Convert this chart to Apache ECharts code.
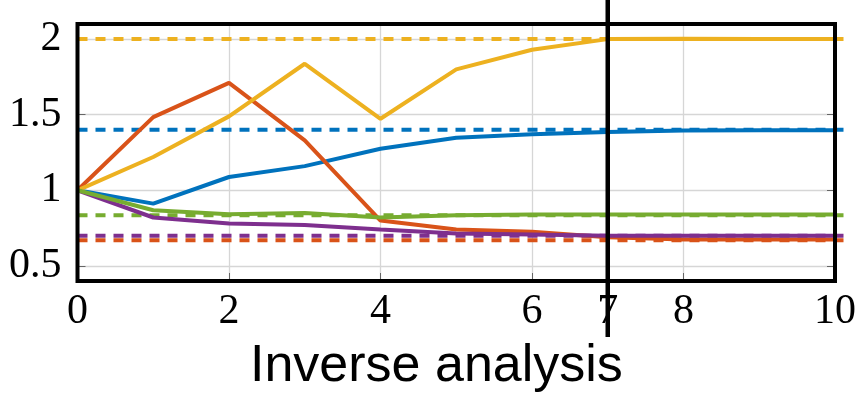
<!DOCTYPE html>
<html>
<head>
<meta charset="utf-8">
<script src="https://cdn.jsdelivr.net/npm/echarts@6/dist/echarts.min.js"></script>
<style>
  html, body { margin: 0; padding: 0; background: #fff; }
  #chart { width: 859px; height: 395px; }
</style>
</head>
<body>
<div id="chart"></div>
<script>
// iterations of the inverse analysis
const iterations = [0, 1, 2, 3, 4, 5, 6, 7, 8, 9, 10];

// identified parameters (normalised)
const blueVals = [1, 0.912, 1.088, 1.16, 1.275, 1.348, 1.37, 1.385, 1.395, 1.397, 1.397];
const orangeVals = [1, 1.484, 1.711, 1.33, 0.8, 0.74, 0.725, 0.69, 0.675, 0.675, 0.675];
const yellowVals = [1, 1.22, 1.489, 1.837, 1.473, 1.8, 1.93, 2.0, 2.003, 2.0, 2.0];
const purpleVals = [1, 0.82, 0.78, 0.77, 0.74, 0.714, 0.708, 0.7, 0.7, 0.7, 0.7];
const greenVals = [1, 0.868, 0.842, 0.85, 0.82, 0.835, 0.84, 0.84, 0.84, 0.84, 0.84];

// true values (dotted lines)
const refBlue = 1.4;
const refOrange = 0.67;
const refYellow = 2.0;
const refPurple = 0.7;
const refGreen = 0.835;
const refSpan = [0, 10.2];

// vertical marker at iteration 7
const markerX = 7;
const markerSpan = [0.03, 2.3];

const xLabels = [0, 2, 4, 6, 7, 8, 10];
const yLabels = [0.5, 1, 1.5, 2];

const colors = {
  blue: "#0072BD",
  orange: "#D95319",
  yellow: "#EDB120",
  purple: "#7E2F8E",
  green: "#77AC30",
};

const chart = echarts.init(document.getElementById("chart"));

const solid = (name, vals) => ({
  name: name,
  type: "line",
  z: 3,
  symbol: "none",
  data: iterations.map((x, i) => [x, vals[i]]),
  lineStyle: { color: colors[name], width: 4 },
});

// the reference lines run a bit past the right edge of the box,
// so draw them with a custom series (line series gets cut at x max)
const dashed = (name, v) => ({
  name: name + "Ref",
  type: "custom",
  z: 2,
  clip: false,
  data: [[v]],
  encode: { y: 0 },
  renderItem: (params, api) => {
    const y = api.value(0);
    const p0 = api.coord([refSpan[0], y]);
    const p1 = api.coord([refSpan[1], y]);
    return {
      type: "line",
      shape: { x1: p0[0], y1: p0[1], x2: p1[0], y2: p1[1] },
      style: {
        stroke: colors[name],
        lineWidth: 4,
        lineDash: [10, 8],
        lineCap: "butt",
      },
    };
  },
});

const serifFont = "Liberation Serif";

const option = {
  animation: false,
  backgroundColor: "#fff",
  title: {
    text: "Inverse analysis",
    left: 250,
    top: 341,
    padding: 0,
    textStyle: {
      fontFamily: "Liberation Sans",
      fontSize: 52,
      fontWeight: "normal",
      color: "#000",
    },
  },
  grid: {
    left: 77.5,
    right: 20.5,
    top: 24,
    bottom: 114,
    show: true,
    z: 5,
    borderColor: "#000",
    borderWidth: 4,
    backgroundColor: "transparent",
  },
  xAxis: {
    type: "value",
    min: 0,
    max: 10,
    interval: 2,
    axisLine: { show: false },
    axisTick: { inside: true, length: 8, lineStyle: { color: "#666" } },
    splitLine: { show: true, lineStyle: { color: "#d6d6d6", width: 1.3 } },
    axisLabel: {
      customValues: xLabels,
      margin: 10,
      fontFamily: serifFont,
      fontSize: 42,
      color: "#000",
    },
  },
  yAxis: [
    {
      type: "value",
      min: 0.4,
      max: 2.1,
      axisLine: { show: false },
      axisTick: {
        inside: true,
        length: 8,
        customValues: yLabels,
        lineStyle: { color: "#666" },
      },
      splitLine: { show: true, lineStyle: { color: "#d6d6d6", width: 1.3 } },
      axisLabel: {
        customValues: yLabels,
        margin: 16,
        fontFamily: serifFont,
        fontSize: 42,
        color: "#000",
      },
    },
    {
      type: "value",
      position: "right",
      min: 0.4,
      max: 2.1,
      axisLine: { show: false },
      axisTick: {
        show: true,
        inside: true,
        length: 8,
        customValues: yLabels,
        lineStyle: { color: "#666" },
      },
      splitLine: { show: false },
      axisLabel: { show: false },
    },
  ],
  series: [
    dashed("blue", refBlue),
    dashed("orange", refOrange),
    dashed("yellow", refYellow),
    dashed("purple", refPurple),
    dashed("green", refGreen),
    solid("blue", blueVals),
    solid("orange", orangeVals),
    solid("yellow", yellowVals),
    solid("purple", purpleVals),
    solid("green", greenVals),
    {
      name: "marker",
      type: "line",
      z: 10,
      clip: false,
      symbol: "none",
      data: markerSpan.map((y) => [markerX, y]),
      lineStyle: { color: "#000", width: 4.5 },
    },
  ],
};

chart.setOption(option);
</script>
</body>
</html>
